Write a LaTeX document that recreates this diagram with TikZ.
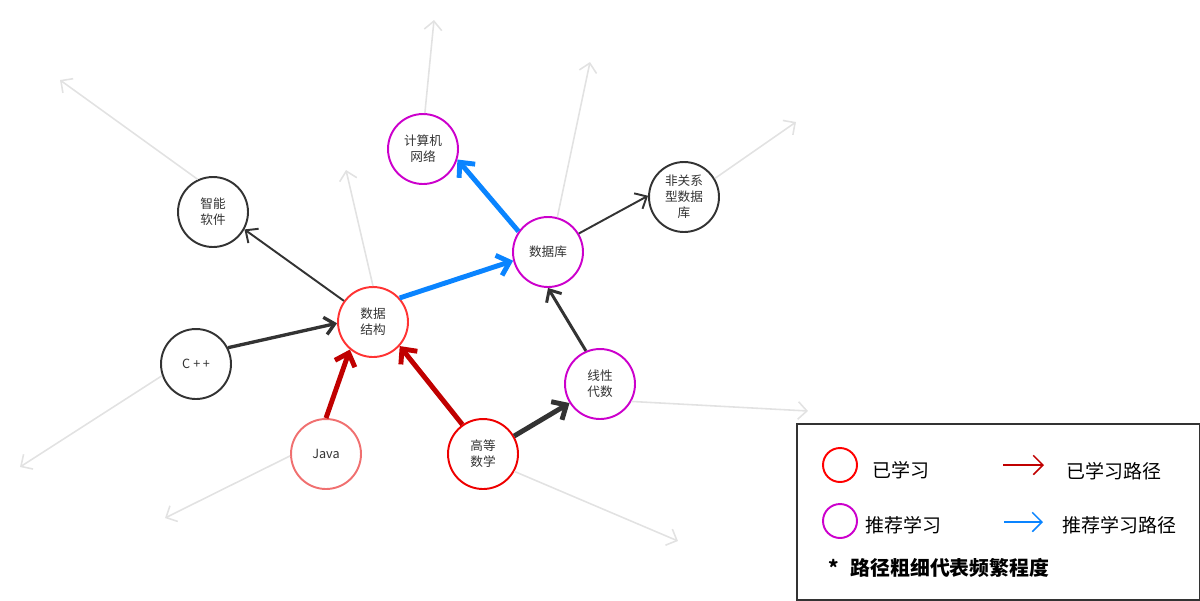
\documentclass[tikz,border=0pt]{standalone}
\usepackage{fontspec}
\setmainfont{Noto Sans CJK SC}
\usetikzlibrary{arrows.meta}
\definecolor{dk}{HTML}{333333}
\definecolor{lg}{HTML}{E2E2E2}
\definecolor{rd}{HTML}{C00000}
\definecolor{bl}{HTML}{0A84FF}
\definecolor{pu}{HTML}{CC00CC}
\definecolor{rc}{HTML}{FF3333}
\definecolor{rc2}{HTML}{EE0000}
\definecolor{rc3}{HTML}{F07070}
\definecolor{lrd}{HTML}{FF0000}
\tikzset{
  course/.style={circle, draw=dk, line width=1.1pt, minimum size=1.4cm, inner sep=0pt,
    align=center, font=\fontsize{7.2}{9}\selectfont, text=dk},
  thinhead/.style={-{Straight Barb[length=5.5pt,width=10pt]}},
  thickhead/.style={-{Straight Barb[length=6.5pt,width=12pt]}},
  ghost/.style={draw=lg, line width=0.9pt, -{Straight Barb[length=5pt,width=10pt]}},
  legtext/.style={font=\fontsize{10.8}{13}\selectfont, text=black, anchor=west},
  legcircle/.style={circle, line width=1.1pt, minimum size=0.68cm, inner sep=0pt}
}
\begin{document}
\begin{tikzpicture}[x=0.02cm,y=-0.02cm]
\useasboundingbox (0,0) rectangle (1200,600);
% nodes
\node[course, draw=pu] (net) at (423,149) {计算机\\网络};
\node[course] (zn) at (213,212) {智能\\软件};
\node[course] (nr) at (684,197) {非关系\\型数据\\库};
\node[course, draw=pu] (db) at (548,252) {数据库};
\node[course, draw=rc] (ds) at (373,322) {数据\\结构};
\node[course] (cpp) at (196,364) {C\hspace{0.25em}+\hspace{0.2em}+};
\node[course, draw=pu] (la) at (600,384) {线性\\代数};
\node[course, draw=rc3] (java) at (326,454) {Java};
\node[course, draw=rc2] (math) at (483,454) {高等\\数学};
% ghost endpoints
\coordinate (g1) at (434,20);
\coordinate (g2) at (60,80);
\coordinate (g3) at (346,170);
\coordinate (g4) at (590,62);
\coordinate (g5) at (796,122);
\coordinate (g6) at (20,467);
\coordinate (g7) at (808,411);
\coordinate (g8) at (165,518);
\coordinate (g9) at (678,541);
\draw[ghost] (net.87) -- (g1);
\draw[ghost] (zn.115) -- (g2);
\draw[ghost] (ds.90) -- (g3);
\draw[ghost] (db.75) -- (g4);
\draw[ghost] (nr.31) -- (g5);
\draw[ghost] (cpp.199) -- (g6);
\draw[ghost] (la.331) -- (g7);
\draw[ghost] (java.183) -- (g8);
\draw[ghost] (math.331) -- (g9);
% dark edges
\draw[thinhead, draw=dk, line width=1.1pt] (ds.144) -- (zn.331);
\draw[thinhead, draw=dk, line width=1.1pt] (db.31) -- (nr.178);
\draw[thinhead, draw=dk, line width=1.9pt] (cpp.27) -- (ds.182);
\draw[thinhead, draw=dk, line width=1.7pt] (la.113) -- (db.270);
\draw[thickhead, draw=dk, line width=2.8pt] (math.30) -- (la.212);
% red edges
\draw[thickhead, draw=rd, line width=2.8pt] (java.90) -- (ds.230);
\draw[thickhead, draw=rd, line width=2.8pt] (math.125) -- (ds.318);
% blue edges
\draw[thickhead, draw=bl, line width=2.8pt] (ds.42) -- (db.194);
\draw[thickhead, draw=bl, line width=2.8pt] (db.145) -- (net.343);
% legend
\node[draw=dk, line width=1.1pt, minimum width=403*0.02cm, minimum height=176*0.02cm, inner sep=0pt, anchor=north west] (leg) at (796,423) {};
\node[legcircle, draw=lrd] (lc1) at (840,465) {};
\node[legcircle, draw=pu] (lc2) at (840,521) {};
\node[legtext] (lt1) at (866,470) {已学习};
\node[legtext] (lt2) at (859,525) {推荐学习};
\coordinate (la1) at (1003,465);
\coordinate (lb1) at (1044,465);
\coordinate (la2) at (1004,522);
\coordinate (lb2) at (1043,522);
\draw[draw=rd, line width=0.9pt, -{Straight Barb[length=5.5pt,width=11pt]}] (la1) -- (lb1);
\draw[draw=bl, line width=0.9pt, -{Straight Barb[length=5.5pt,width=11pt]}] (la2) -- (lb2);
\node[legtext] (lt3) at (1060,471) {已学习路径};
\node[legtext] (lt4) at (1056,525) {推荐学习路径};
\node[legtext, font=\fontsize{11.3}{13}\selectfont\bfseries] (lt5) at (822,568) {*\hspace{0.6em}路径粗细代表频繁程度};
\end{tikzpicture}
\end{document}
